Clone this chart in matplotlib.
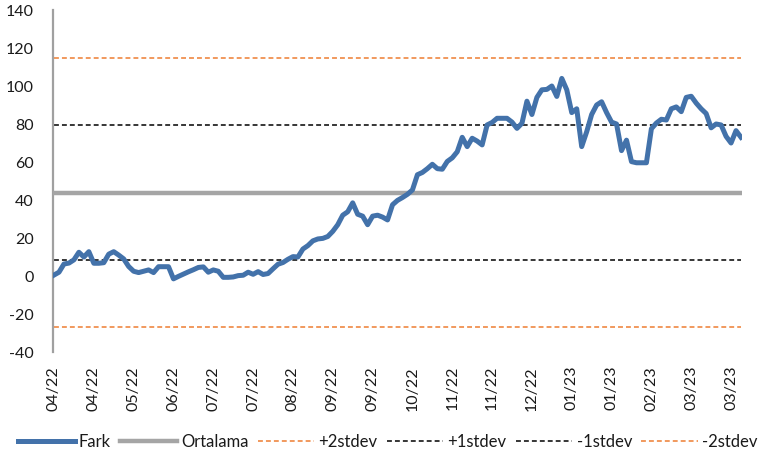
import numpy as np
import matplotlib.pyplot as plt

plt.rcParams['font.family'] = ['Lato', 'DejaVu Sans']
plt.rcParams['axes.unicode_minus'] = False

# Fark serisi (okunan degerler, her nokta ~ 1/8 etiket araligi)
fark = [0.5, 2.0, 6.3, 6.8, 8.5, 12.5, 10.0, 12.8, 6.7, 6.7,
        7.0, 11.5, 12.8, 11.0, 9.0, 5.0, 2.5, 1.8, 2.5, 3.2,
        1.8, 4.9, 4.9, 4.9, -1.5, -0.2, 1.0, 2.2, 3.3, 4.5,
        4.8, 2.0, 3.2, 2.5, -0.7, -0.7, -0.5, 0.2, 0.4, 2.0,
        0.9, 2.3, 0.8, 1.3, 3.8, 6.2, 7.1, 8.8, 10.2, 10.0,
        14.2, 16.0, 18.5, 19.5, 19.8, 20.8, 23.5, 27.0, 32.0, 33.8,
        38.5, 32.5, 31.5, 27.0, 31.5, 32.0, 31.0, 29.5, 37.5, 39.8,
        41.3, 43.0, 45.3, 53.3, 54.5, 56.5, 58.8, 56.5, 56.2, 60.3,
        62.2, 65.4, 73.0, 68.1, 72.5, 71.0, 69.0, 79.5, 80.8, 83.0,
        83.0, 83.0, 81.0, 77.7, 80.4, 92.0, 85.0, 94.0, 98.0, 98.2,
        100.0, 94.5, 104.0, 98.0, 86.0, 88.0, 68.1, 75.9, 85.0, 90.0,
        91.7, 86.0, 81.0, 80.0, 66.0, 71.5, 60.2, 59.6, 59.6, 59.6,
        77.5, 80.5, 82.5, 82.1, 88.0, 89.0, 86.5, 94.0, 94.6, 91.0,
        88.0, 85.5, 78.0, 80.0, 79.5, 73.5, 70.0, 76.5, 73.0]

tick_labels = ['04/22', '04/22', '05/22', '06/22', '07/22', '07/22', '08/22', '09/22', '09/22',
               '10/22', '11/22', '11/22', '12/22', '01/23', '01/23', '02/23', '03/23', '03/23']
tick_step = 8

ortalama = 43.8
plus2 = 114.7
plus1 = 79.3
minus1 = 8.4
minus2 = -27.1

x = np.arange(len(fark))
n = len(fark)

fig = plt.figure(figsize=(7.78, 4.58), dpi=100)
ax = fig.add_axes([53 / 778, 1 - 352 / 458, (742 - 53) / 778, 342 / 458])

blue = '#4372AA'
orange = '#ED7D31'
dash = (0, (3.2, 2.0))

ax.plot(x, fark, color=blue, lw=3.6, solid_joinstyle='round', label='Fark', zorder=5)
ax.plot(x, np.full(n, ortalama), color='#A5A5A5', lw=3.2, label='Ortalama', zorder=4)
ax.plot(x, np.full(n, plus2), color=orange, lw=1.1, ls=dash, label='+2stdev')
ax.plot(x, np.full(n, plus1), color='black', lw=1.1, ls=dash, label='+1stdev')
ax.plot(x, np.full(n, minus1), color='black', lw=1.1, ls=dash, label='-1stdev')
ax.plot(x, np.full(n, minus2), color=orange, lw=1.1, ls=dash, label='-2stdev')

ax.set_xlim(-0.2, n - 0.8)
ax.set_ylim(-40, 140)
ax.set_yticks(np.arange(-40, 141, 20))
ax.set_xticks(np.arange(0, len(tick_labels) * tick_step, tick_step))
ax.set_xticklabels(tick_labels, rotation=90, va='top', ha='center')

ax.tick_params(axis='y', length=0, pad=14, labelsize=11.5, colors='#1a1a1a')
ax.tick_params(axis='x', length=0, pad=10, labelsize=11.5, colors='#1a1a1a')

for s in ['top', 'right', 'bottom']:
    ax.spines[s].set_visible(False)
ax.spines['left'].set_color('#A0A0A0')
ax.spines['left'].set_linewidth(1.6)

leg = ax.legend(loc='center left', bbox_to_anchor=(18 / 778, 1 - 442 / 458),
                bbox_transform=fig.transFigure, ncol=6, frameon=False,
                fontsize=12, borderpad=0, borderaxespad=0,
                handlelength=3.4, handletextpad=0.25, columnspacing=0.55)
for t in leg.get_texts():
    t.set_color('#1a1a1a')

fig.savefig('out.png', dpi=100)
